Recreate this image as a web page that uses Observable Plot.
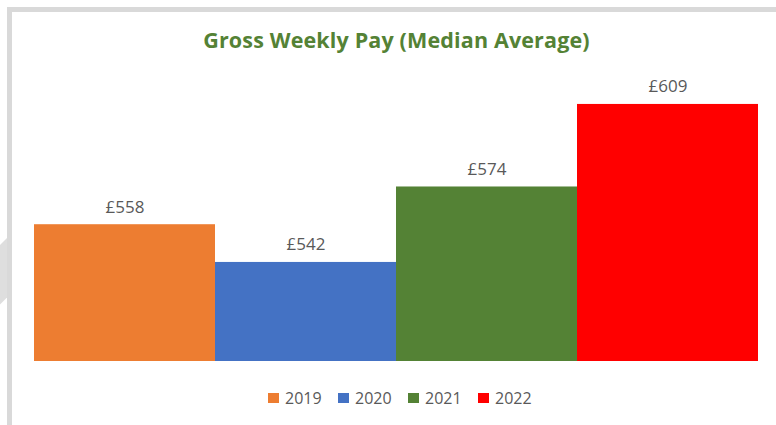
<!DOCTYPE html>
<html>
<head>
<meta charset="utf-8">
<script src="https://cdn.jsdelivr.net/npm/d3@7"></script>
<script src="https://cdn.jsdelivr.net/npm/@observablehq/plot@0.6"></script>
<style>
  html, body { margin: 0; padding: 0; background: #fff; }
  body { width: 776px; height: 425px; position: relative; overflow: hidden; font-family: "Open Sans", sans-serif; }
  #frame { position: absolute; left: 7px; top: 7px; width: 800px; height: 440px; border-left: 5px solid #d9d9d9; border-top: 5px solid #d9d9d9; box-sizing: border-box; }
  #ghost { position: absolute; left: 0; top: 238px; width: 7px; height: 70px; background: #dedede; clip-path: polygon(0 10%, 100% 0, 100% 85%, 0 95%); }
  #title { position: absolute; left: 0; width: 793px; top: 27px; text-align: center; color: #548235; font-weight: 700; font-size: 21.5px; line-height: 26px; letter-spacing: 0.15px; }
  #chart { position: absolute; left: 0; top: 0; }
  #legend { position: absolute; left: 268px; top: 388px; display: flex; }
  .item { width: 70px; display: flex; align-items: center; font-size: 16px; color: #595959; line-height: 20px; }
  .sw { width: 11px; height: 10px; margin-right: 6px; }
</style>
</head>
<body>
<div id="frame"></div>
<div id="ghost"></div>
<div id="chart"></div>
<div id="title">Gross Weekly Pay (Median Average)</div>
<div id="legend"></div>
<script>
const years = ["2019", "2020", "2021", "2022"];
const pay = [558, 542, 574, 609];
const colors = ["#ED7D31", "#4472C4", "#548235", "#FF0000"];
const labels = pay.map(v => "£" + v);

const data = years.map((y, i) => ({year: y, pay: pay[i], label: labels[i]}));

const chart = Plot.plot({
  width: 776,
  height: 380,
  marginTop: 78,
  marginBottom: 19,
  marginLeft: 33,
  marginRight: 17,
  style: {background: "transparent", fontFamily: "Open Sans, sans-serif"},
  x: {domain: years, padding: 0, axis: null},
  y: {domain: [500, 620], clamp: true, axis: null},
  color: {domain: years, range: colors},
  marks: [
    Plot.barY(data, {x: "year", y: "pay", fill: "year"}),
    Plot.text(data, {x: "year", y: "pay", text: "label", lineAnchor: "bottom", dy: -12, fontSize: 17, fill: "#595959"})
  ]
});
document.getElementById("chart").appendChild(chart);

const legend = document.getElementById("legend");
years.forEach((y, i) => {
  const item = document.createElement("div");
  item.className = "item";
  const sw = document.createElement("span");
  sw.className = "sw";
  sw.style.background = colors[i];
  item.appendChild(sw);
  item.appendChild(document.createTextNode(y));
  legend.appendChild(item);
});
</script>
</body>
</html>
